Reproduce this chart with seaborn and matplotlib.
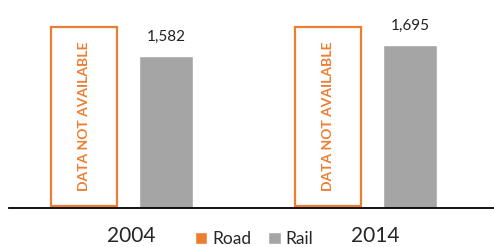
import pandas as pd
import matplotlib
matplotlib.use("Agg")
import matplotlib.pyplot as plt
import matplotlib.transforms as mtransforms
import seaborn as sns
from matplotlib.patches import Rectangle, Patch

# Data
years = ["2004", "2014"]
modes = ["Road", "Rail"]
road = [None, None]          # data not available
rail = [1582, 1695]
colors = {"Road": "#ED7D31", "Rail": "#A5A5A5"}

df = pd.DataFrame({
    "Year": years * 2,
    "Mode": ["Road"] * len(years) + ["Rail"] * len(years),
    "Value": road + rail,
})

sns.set_style("white")
plt.rcParams["font.family"] = ["Lato", "DejaVu Sans"]

fig = plt.figure(figsize=(4.94, 2.47), dpi=100)
ax = fig.add_axes([9 / 494, 39 / 247, 485 / 494, 208 / 247])

sns.barplot(data=df, x="Year", y="Value", hue="Mode", order=years,
            hue_order=modes, palette=colors, width=0.66, gap=0.33,
            dodge=True, legend=False, errorbar=None, ax=ax)

ax.set_xlim(-0.48, 1.508)
ax.set_ylim(0, 2158)

# value labels on rail bars
for i, v in enumerate(rail):
    ax.text(i + 0.165, v + 120, f"{v:,}", ha="center", va="bottom",
            fontsize=11, color="#222222")

# "data not available" boxes for road
for i, v in enumerate(road):
    if v is None:
        ax.add_patch(Rectangle((i - 0.307, 20), 0.27, 1855, fill=False,
                               edgecolor=colors["Road"], linewidth=1.6))
        ax.text(i - 0.172, 950, "DATA NOT AVAILABLE", rotation=90,
                ha="center", va="center", fontsize=10, fontweight="bold",
                color=colors["Road"])

sns.despine(ax=ax, left=True, top=True, right=True)
ax.spines["bottom"].set_color("black")
ax.spines["bottom"].set_linewidth(1.3)
ax.set_yticks([])
ax.set_xlabel("")
ax.set_ylabel("")
ax.tick_params(axis="x", length=0, pad=13, labelsize=15)

# nudge the year labels slightly right, like the original
shift = mtransforms.ScaledTranslation(5 / 100, 0, fig.dpi_scale_trans)
for lbl in ax.get_xticklabels():
    lbl.set_transform(lbl.get_transform() + shift)

handles = [Patch(facecolor=colors[m], label=m) for m in modes]
fig.legend(handles=handles, loc="center", bbox_to_anchor=(254 / 494, 8 / 247),
           ncol=2, frameon=False, fontsize=12.5, handlelength=0.7,
           handleheight=0.7, handletextpad=0.3, columnspacing=1.0)

fig.savefig("out.png", dpi=100)
